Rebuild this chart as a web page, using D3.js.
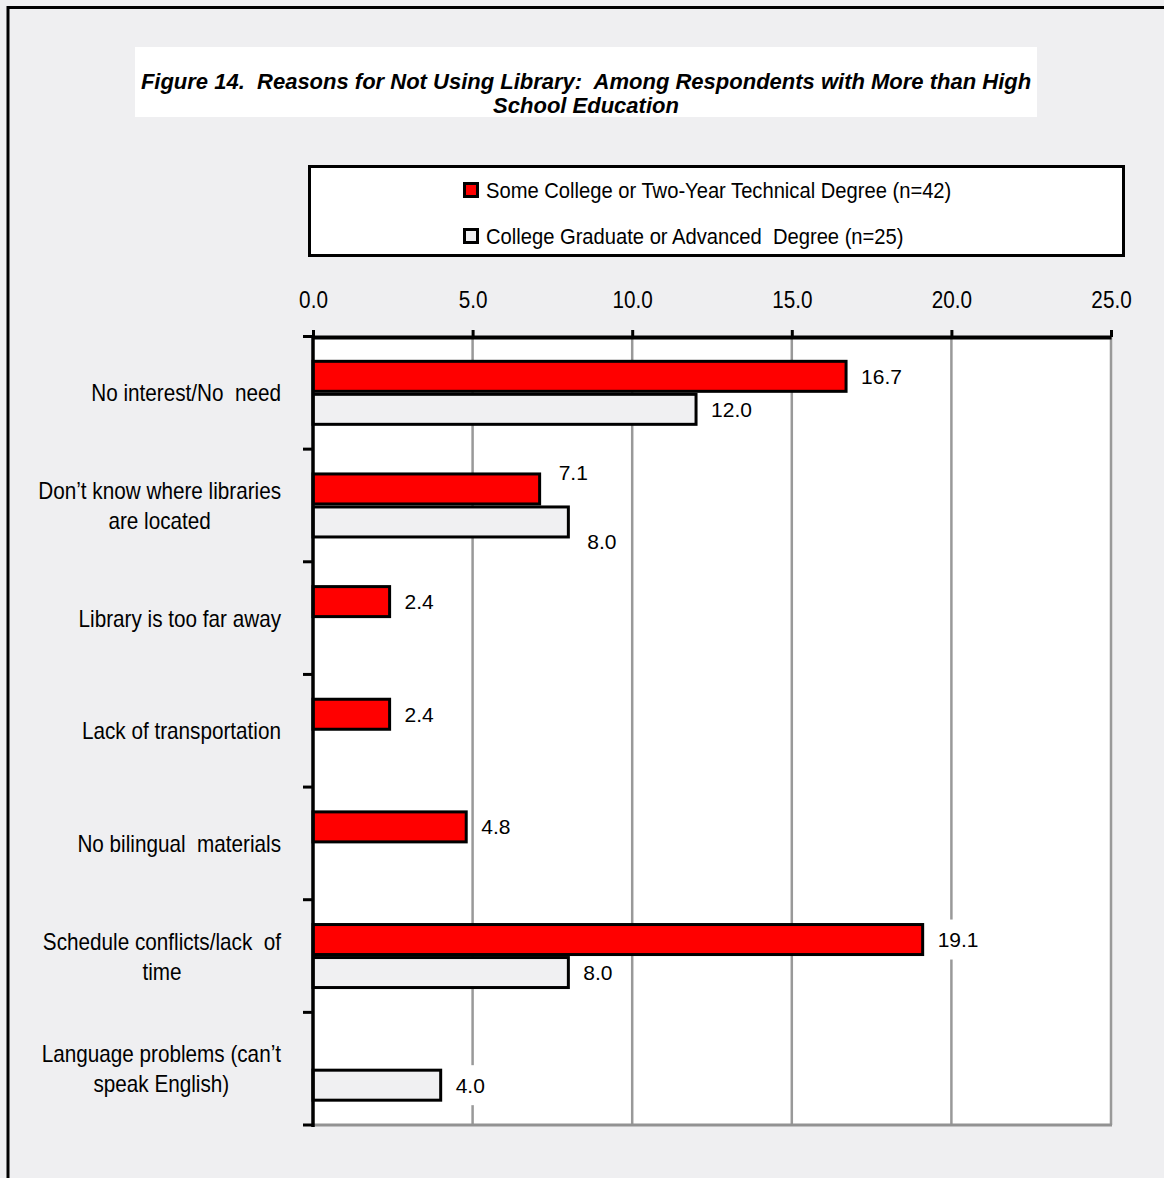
<!DOCTYPE html>
<html>
<head>
<meta charset="utf-8">
<script src="https://cdn.jsdelivr.net/npm/d3@7"></script>
<style>
  html, body { margin: 0; padding: 0; background: #efeff1; }
  svg { display: block; }
  text { font-family: "Liberation Sans", Arial, sans-serif; white-space: pre; fill: #000; }
</style>
</head>
<body>
<script>
// Reasons for not using the library, percent of respondents
const categories = [
  "No interest/No  need",
  "Don’t know where libraries\nare located",
  "Library is too far away",
  "Lack of transportation",
  "No bilingual  materials",
  "Schedule conflicts/lack  of\ntime",
  "Language problems (can’t\nspeak English)"
];
const seriesNames = [
  "Some College or Two-Year Technical Degree (n=42)",
  "College Graduate or Advanced  Degree (n=25)"
];
const someCollege = [16.7, 7.1, 2.4, 2.4, 4.8, 19.1, null];
const collegeGrad = [12.0, 8.0, null, null, null, 8.0, 4.0];
const xTicks = [0, 5, 10, 15, 20, 25];
const titleLines = [
  "Figure 14.  Reasons for Not Using Library:  Among Respondents with More than High",
  "School Education"
];

const W = 1164, H = 1178;
const fills = ["#ff0000", "#f0f0f2"];
const series = [someCollege, collegeGrad];
const narrow = 0.9;   // horizontal squeeze for the condensed lettering

const svg = d3.select("body").append("svg").attr("width", W).attr("height", H);

// page background and frame
svg.append("rect").attr("width", W).attr("height", H).attr("fill", "#efeff1");
svg.append("path").attr("d", `M8,${H} V7.5 H${W}`).attr("fill", "none")
  .attr("stroke", "#000").attr("stroke-width", 3);

// title
svg.append("rect").attr("x", 135).attr("y", 47).attr("width", 902).attr("height", 70).attr("fill", "#fff");
svg.append("g").selectAll("text").data(titleLines).join("text")
  .attr("x", 586).attr("y", (d, i) => 89 + i * 24)
  .attr("text-anchor", "middle")
  .style("font-size", "22px").style("font-weight", "bold").style("font-style", "italic")
  .text(d => d);

// legend
const lg = svg.append("g");
lg.append("rect").attr("x", 309.5).attr("y", 166.5).attr("width", 814).attr("height", 89)
  .attr("fill", "#fff").attr("stroke", "#000").attr("stroke-width", 3);
const lgRows = lg.selectAll("g.row").data(seriesNames).join("g")
  .attr("class", "row").attr("transform", (d, i) => `translate(0,${190 + i * 46})`);
lgRows.append("rect").attr("x", 464.5).attr("y", -6.5).attr("width", 13).attr("height", 13)
  .attr("fill", (d, i) => fills[i]).attr("stroke", "#000").attr("stroke-width", 3);
lgRows.append("text").attr("transform", "translate(486,8) scale(0.917,1)")
  .style("font-size", "22px").text(d => d);

// scales
const x = d3.scaleLinear().domain([0, 25]).range([313, 1111]);
const y = d3.scaleBand().domain(d3.range(categories.length)).range([336.5, 1125])
  .paddingInner(0.414).paddingOuter(0.207);
const ySub = d3.scaleBand().domain([0, 1]).range([0, y.bandwidth()]);

// plot area and gridlines
svg.append("rect").attr("x", x(0)).attr("y", 337).attr("width", x(25) - x(0)).attr("height", 1125 - 337)
  .attr("fill", "#fff");
svg.append("g").selectAll("line").data(xTicks.filter(d => d > 0)).join("line")
  .attr("x1", d => x(d)).attr("x2", d => x(d)).attr("y1", 337).attr("y2", 1125)
  .attr("stroke", "#999").attr("stroke-width", 2.5);
svg.append("line").attr("x1", x(0)).attr("x2", x(25) + 1).attr("y1", 1125).attr("y2", 1125)
  .attr("stroke", "#929292").attr("stroke-width", 3);

// bar records
const bars = [];
series.forEach((vals, s) => vals.forEach((v, i) => { if (v) bars.push({ s, i, v }); }));

// value label positions; pairs whose labels would collide are pushed apart vertically
const labels = bars.map(d => {
  const other = series[1 - d.s][d.i];
  const clash = other && Math.abs(x(other) - x(d.v)) < 40;
  const cy = y(d.i) + ySub(d.s) + ySub.bandwidth() / 2 + (clash ? (d.s === 0 ? -16 : 20) : 0);
  return { ...d, lx: x(d.v) + 15 + (clash ? 4 : 0), cy, txt: d.v.toFixed(1) };
});

// label backgrounds sit under the bars and over the gridlines
const boxG = svg.append("g");
const barG = svg.append("g");
const txtG = svg.append("g");

barG.selectAll("rect").data(bars).join("rect")
  .attr("x", x(0)).attr("y", d => y(d.i) + ySub(d.s) + 1.5)
  .attr("width", d => x(d.v) - x(0)).attr("height", ySub.bandwidth() - 3)
  .attr("fill", d => fills[d.s]).attr("stroke", "#000").attr("stroke-width", 3);

const lblText = txtG.selectAll("text").data(labels).join("text")
  .attr("x", d => d.lx).attr("y", d => d.cy + 7.5)
  .style("font-size", "21px").text(d => d.txt);
const widths = [];
lblText.each(function (d, k) { widths[k] = this.getComputedTextLength(); });
boxG.selectAll("rect").data(labels).join("rect")
  .attr("x", d => d.lx - 4).attr("y", d => d.cy - 20)
  .attr("width", (d, k) => widths[k] + 8).attr("height", 40).attr("fill", "#fff");

// top value axis
const xAxis = svg.append("g").attr("transform", "translate(0,337)")
  .call(d3.axisTop(x).tickValues(xTicks).tickFormat(d3.format(".1f")).tickSize(7).tickSizeOuter(0).tickPadding(22));
xAxis.attr("font-family", null).attr("font-size", null);
xAxis.select(".domain").attr("stroke", "#000").attr("stroke-width", 4);
xAxis.selectAll(".tick line").attr("stroke", "#000").attr("stroke-width", 3);
xAxis.selectAll(".tick text").style("font-size", "23px").attr("fill", "#000")
  .attr("transform", `scale(${narrow},1)`);

// category axis
svg.append("line").attr("x1", x(0)).attr("x2", x(0)).attr("y1", 335).attr("y2", 1127)
  .attr("stroke", "#000").attr("stroke-width", 3.5);
const bounds = d3.range(categories.length + 1).map(i => y.range()[0] + i * y.step());
svg.append("g").selectAll("line").data(bounds).join("line")
  .attr("x1", x(0) - 10).attr("x2", x(0)).attr("y1", d => d).attr("y2", d => d)
  .attr("stroke", "#000").attr("stroke-width", 3);

// category labels, each wrapped block right-aligned beside the axis, lines centred
const catG = svg.append("g").selectAll("text").data(categories).join("text")
  .style("font-size", "23px").attr("text-anchor", "middle")
  .attr("transform", `translate(281,0) scale(${narrow},1)`);
catG.each(function (d, i) {
  const lines = d.split("\n");
  const t = d3.select(this);
  const c = y(i) + y.bandwidth() / 2;
  lines.forEach((ln, k) => {
    t.append("tspan").attr("y", c + 8.5 + (k - (lines.length - 1) / 2) * 30).text(ln);
  });
  let w = 0;
  t.selectAll("tspan").each(function () { w = Math.max(w, this.getComputedTextLength()); });
  t.selectAll("tspan").attr("x", -w / 2);
});
</script>
</body>
</html>
